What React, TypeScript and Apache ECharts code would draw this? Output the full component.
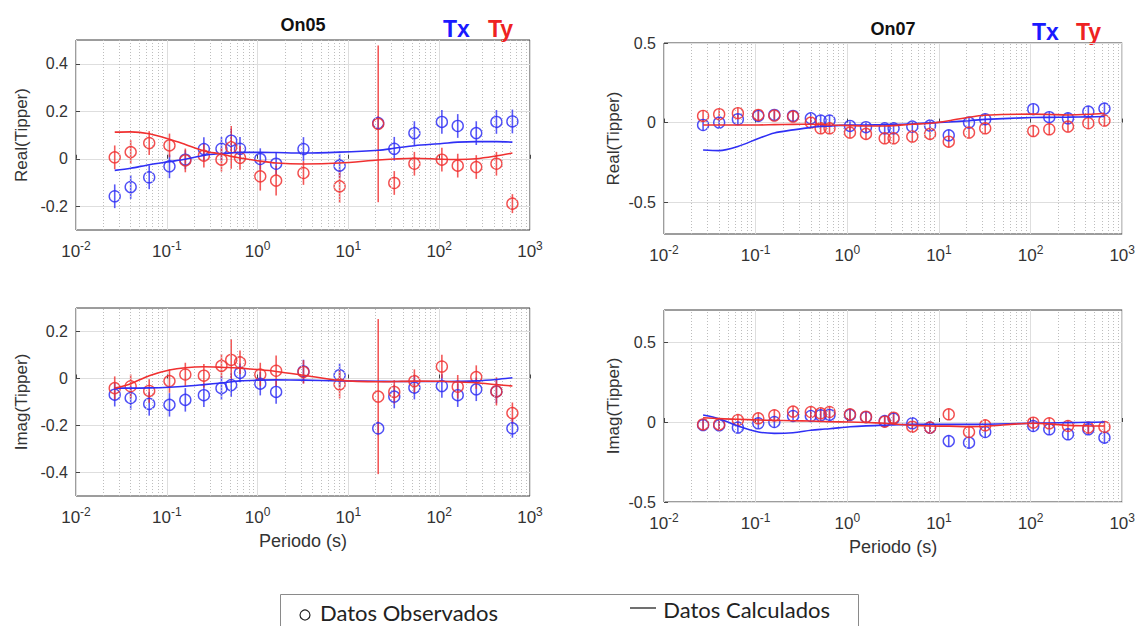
import React, { useEffect, useRef } from "react";
import * as echarts from "echarts";

// ---------- data ----------
const periods05 = [0.0267, 0.04, 0.064, 0.107, 0.16, 0.256, 0.4, 0.512, 0.64, 1.07, 1.6, 3.2, 8, 21.3, 32, 53.3, 107, 160, 256, 427, 640];
const periods07 = [0.0267, 0.04, 0.064, 0.107, 0.16, 0.256, 0.4, 0.512, 0.64, 1.07, 1.6, 2.56, 3.2, 5.12, 8, 12.8, 21.3, 32, 107, 160, 256, 427, 640];

// On05 real
const re05TxObs = [-0.158, -0.119, -0.078, -0.032, -0.004, 0.041, 0.042, 0.076, 0.042, -0.001, -0.021, 0.041, -0.029, 0.15, 0.042, 0.108, 0.155, 0.138, 0.108, 0.155, 0.157];
const re05TxErr = [0.05, 0.05, 0.05, 0.05, 0.04, 0.05, 0.05, 0.05, 0.05, 0.045, 0.045, 0.05, 0.05, 0.03, 0.05, 0.05, 0.05, 0.05, 0.05, 0.05, 0.05];
const re05TyObs = [0.006, 0.028, 0.066, 0.056, -0.007, 0.013, -0.004, 0.048, 0.004, -0.074, -0.092, -0.06, -0.116, 0.147, -0.102, -0.021, -0.004, -0.029, -0.035, -0.021, -0.189];
const re05TyErr = [0.05, 0.05, 0.05, 0.05, 0.05, 0.05, 0.05, 0.09, 0.05, 0.06, 0.063, 0.05, 0.07, 0.33, 0.05, 0.05, 0.05, 0.05, 0.05, 0.05, 0.04];
const re05TxCalc = [-0.049, -0.04, -0.025, -0.012, -0.002, 0.014, 0.022, 0.025, 0.027, 0.027, 0.026, 0.024, 0.028, 0.036, 0.044, 0.055, 0.064, 0.07, 0.072, 0.072, 0.07];
const re05TyCalc = [0.112, 0.113, 0.105, 0.082, 0.06, 0.033, 0.02, 0.01, 0.003, -0.01, -0.018, -0.022, -0.018, -0.005, -0.001, 0.002, -0.002, -0.003, 0.0, 0.012, 0.024];

// On05 imag
const im05TxObs = [-0.069, -0.083, -0.108, -0.112, -0.091, -0.071, -0.041, -0.028, 0.024, -0.022, -0.057, 0.03, 0.014, -0.212, -0.077, -0.039, -0.032, -0.071, -0.046, -0.055, -0.212];
const im05TxErr = [0.05, 0.05, 0.05, 0.05, 0.05, 0.05, 0.05, 0.05, 0.04, 0.05, 0.05, 0.05, 0.05, 0.03, 0.05, 0.05, 0.05, 0.05, 0.05, 0.05, 0.04];
const im05TyObs = [-0.041, -0.033, -0.053, -0.011, 0.017, 0.012, 0.054, 0.079, 0.069, 0.017, 0.033, 0.028, -0.025, -0.077, -0.057, -0.011, 0.051, -0.035, 0.006, -0.055, -0.147];
const im05TyErr = [0.05, 0.05, 0.05, 0.05, 0.05, 0.05, 0.05, 0.088, 0.05, 0.05, 0.065, 0.05, 0.06, 0.33, 0.05, 0.05, 0.05, 0.05, 0.05, 0.06, 0.045];
const im05TxCalc = [-0.041, -0.041, -0.04, -0.037, -0.033, -0.026, -0.019, -0.014, -0.01, -0.007, -0.006, -0.007, -0.01, -0.012, -0.013, -0.013, -0.013, -0.012, -0.01, -0.004, 0.003];
const im05TyCalc = [-0.041, -0.022, 0.012, 0.036, 0.046, 0.05, 0.048, 0.046, 0.044, 0.037, 0.03, 0.014, -0.008, -0.014, -0.013, -0.011, -0.012, -0.015, -0.018, -0.026, -0.032];

// On07 real
const re07TxObs = [-0.015, 0.0, 0.021, 0.042, 0.048, 0.042, 0.027, 0.013, 0.013, -0.021, -0.029, -0.036, -0.036, -0.025, -0.019, -0.08, 0.0, 0.021, 0.084, 0.034, 0.027, 0.069, 0.088];
const re07TxErr = [0.035, 0.035, 0.035, 0.035, 0.03, 0.035, 0.035, 0.035, 0.035, 0.03, 0.03, 0.03, 0.03, 0.03, 0.03, 0.035, 0.035, 0.035, 0.035, 0.035, 0.035, 0.035, 0.035];
const re07TyObs = [0.042, 0.053, 0.059, 0.048, 0.044, 0.038, 0.0, -0.036, -0.036, -0.063, -0.071, -0.099, -0.099, -0.088, -0.071, -0.12, -0.063, -0.036, -0.053, -0.042, -0.025, -0.004, 0.013];
const re07TyErr = [0.035, 0.035, 0.035, 0.035, 0.03, 0.035, 0.035, 0.035, 0.035, 0.035, 0.035, 0.035, 0.035, 0.035, 0.035, 0.035, 0.035, 0.035, 0.035, 0.035, 0.035, 0.035, 0.035];
const re07TxCalc = [-0.172, -0.176, -0.15, -0.1, -0.065, -0.046, -0.03, -0.025, -0.021, -0.016, -0.015, -0.014, -0.012, -0.008, -0.002, 0.004, 0.012, 0.02, 0.032, 0.033, 0.034, 0.036, 0.038];
const re07TyCalc = [-0.015, -0.015, -0.015, -0.015, -0.013, -0.011, -0.01, -0.012, -0.015, -0.019, -0.021, -0.021, -0.019, -0.01, -0.004, 0.012, 0.034, 0.046, 0.053, 0.051, 0.048, 0.052, 0.059];

// On07 imag
const im07TxObs = [-0.019, -0.021, -0.035, -0.008, 0.0, 0.0375, 0.0375, 0.042, 0.044, 0.044, 0.03, 0.006, 0.021, -0.008, -0.035, -0.119, -0.129, -0.0625, -0.025, -0.046, -0.077, -0.046, -0.098];
const im07TxErr = [0.035, 0.035, 0.035, 0.035, 0.035, 0.035, 0.035, 0.035, 0.035, 0.035, 0.035, 0.035, 0.035, 0.035, 0.035, 0.035, 0.035, 0.035, 0.035, 0.035, 0.035, 0.035, 0.035];
const im07TyObs = [-0.015, -0.015, 0.0125, 0.023, 0.042, 0.065, 0.0625, 0.054, 0.0625, 0.048, 0.033, 0.002, 0.027, -0.029, -0.035, 0.048, -0.0625, -0.021, -0.004, -0.008, -0.025, -0.035, -0.031];
const im07TyErr = [0.035, 0.035, 0.035, 0.035, 0.035, 0.035, 0.035, 0.035, 0.035, 0.035, 0.035, 0.035, 0.035, 0.035, 0.035, 0.035, 0.035, 0.035, 0.035, 0.035, 0.035, 0.035, 0.035];
const im07TxCalc = [0.044, 0.021, -0.025, -0.062, -0.071, -0.067, -0.052, -0.046, -0.042, -0.03, -0.024, -0.02, -0.018, -0.015, -0.015, -0.015, -0.015, -0.014, -0.008, -0.006, -0.004, -0.002, 0.0];
const im07TyCalc = [0.027, 0.021, 0.017, 0.0125, 0.01, 0.008, 0.006, 0.004, 0.002, 0.0, -0.003, -0.008, -0.012, -0.021, -0.025, -0.026, -0.029, -0.027, -0.008, -0.012, -0.021, -0.024, -0.025];

const ticks05Real = [-0.2, 0, 0.2, 0.4];
const ticks05Imag = [-0.4, -0.2, 0, 0.2];
const ticks07 = [-0.5, 0, 0.5];
const minorMultipliers = [2, 3, 4, 5, 6, 7, 8, 9];
const decades = [0.01, 0.1, 1, 10, 100];

// ---------- style ----------
const BLUE = "#2f2ff5";
const RED = "#f03030";
const FONT = "Liberation Sans";
const TXT = "#333333";

const panels = [
  { grid: { left: 76, top: 40, width: 454, height: 190 }, ymin: -0.3, ymax: 0.5, ticks: ticks05Real, yName: "Real(Tipper)", xName: "", nameGap: 46,
    periods: periods05, txObs: re05TxObs, txErr: re05TxErr, tyObs: re05TyObs, tyErr: re05TyErr, txCalc: re05TxCalc, tyCalc: re05TyCalc },
  { grid: { left: 664, top: 43, width: 459, height: 191 }, ymin: -0.7, ymax: 0.5, ticks: ticks07, yName: "Real(Tipper)", xName: "", nameGap: 42,
    periods: periods07, txObs: re07TxObs, txErr: re07TxErr, tyObs: re07TyObs, tyErr: re07TyErr, txCalc: re07TxCalc, tyCalc: re07TyCalc },
  { grid: { left: 76, top: 308, width: 454, height: 188 }, ymin: -0.5, ymax: 0.3, ticks: ticks05Imag, yName: "Imag(Tipper)", xName: "Periodo (s)", nameGap: 46,
    periods: periods05, txObs: im05TxObs, txErr: im05TxErr, tyObs: im05TyObs, tyErr: im05TyErr, txCalc: im05TxCalc, tyCalc: im05TyCalc },
  { grid: { left: 664, top: 310, width: 459, height: 192 }, ymin: -0.5, ymax: 0.7, ticks: ticks07, yName: "Imag(Tipper)", xName: "Periodo (s)", nameGap: 42,
    periods: periods07, txObs: im07TxObs, txErr: im07TxErr, tyObs: im07TyObs, tyErr: im07TyErr, txCalc: im07TxCalc, tyCalc: im07TyCalc },
];

function errorBars(idx: number, periods: number[], vals: number[], errs: number[], color: string) {
  return {
    type: "custom",
    xAxisIndex: idx,
    yAxisIndex: idx,
    data: periods.map((p, i) => [p, vals[i], errs[i]]),
    encode: { x: 0, y: 1 },
    renderItem: (_params: any, api: any) => {
      const x = api.value(0);
      const y = api.value(1);
      const e = api.value(2);
      const p1 = api.coord([x, y - e]);
      const p2 = api.coord([x, y + e]);
      return {
        type: "line",
        shape: { x1: p1[0], y1: p1[1], x2: p2[0], y2: p2[1] },
        style: { stroke: color, lineWidth: 1.6, opacity: 0.8 },
      };
    },
    z: 3,
  };
}

function buildOption() {
  const minorValues: number[] = [];
  decades.forEach((d) => minorMultipliers.forEach((m) => minorValues.push(m * d)));

  const xAxis: any[] = [];
  const yAxis: any[] = [];
  const series: any[] = [];

  panels.forEach((p, i) => {
    xAxis.push({
      type: "log",
      logBase: 10,
      gridIndex: i,
      min: 0.01,
      max: 1000,
      name: p.xName,
      nameLocation: "middle",
      nameGap: 36,
      nameTextStyle: { fontSize: 18, color: TXT, fontFamily: FONT },
      axisLine: { show: false },
      axisTick: { show: true, inside: true, length: 4, lineStyle: { color: "#444" } },
      splitLine: { show: true, lineStyle: { color: "#dedede", width: 1 } },
      axisLabel: {
        margin: 10,
        formatter: (v: number) => `{b|10}{s|${Math.round(Math.log10(v))}}`,
        rich: {
          b: { fontSize: 17, color: TXT, fontFamily: FONT, lineHeight: 22 },
          s: { fontSize: 12, color: TXT, fontFamily: FONT, verticalAlign: "top", lineHeight: 14 },
        },
      },
    });
    yAxis.push({
      type: "value",
      gridIndex: i,
      min: p.ymin,
      max: p.ymax,
      name: p.yName,
      nameLocation: "middle",
      nameGap: p.nameGap,
      nameTextStyle: { fontSize: 17, color: TXT, fontFamily: FONT },
      axisLine: { show: false },
      axisTick: { show: true, inside: true, length: 4, customValues: p.ticks, lineStyle: { color: "#444" } },
      splitLine: { show: true, lineStyle: { color: "#dedede", width: 1 } },
      axisLabel: {
        customValues: p.ticks,
        fontSize: 16,
        color: TXT,
        fontFamily: FONT,
        margin: 8,
        formatter: (v: number) => (Math.abs(v) < 1e-9 ? "0" : String(Math.round(v * 10) / 10)),
      },
    });

    // minor dotted grid
    series.push({
      type: "scatter",
      xAxisIndex: i,
      yAxisIndex: i,
      data: [],
      silent: true,
      markLine: {
        silent: true,
        symbol: ["none", "none"],
        label: { show: false },
        lineStyle: { type: [1, 2], color: "#bdbdbd", width: 1 },
        data: minorValues.map((v) => ({ xAxis: v })),
      },
      z: 1,
    });

    series.push(errorBars(i, p.periods, p.txObs, p.txErr, BLUE));
    series.push(errorBars(i, p.periods, p.tyObs, p.tyErr, RED));

    const scatter = (vals: number[], color: string) => ({
      type: "scatter",
      xAxisIndex: i,
      yAxisIndex: i,
      data: p.periods.map((t, k) => [t, vals[k]]),
      symbol: "circle",
      symbolSize: 11,
      itemStyle: { color: "rgba(0,0,0,0)", borderColor: color, borderWidth: 1.4, opacity: 0.85 },
      z: 4,
    });
    series.push(scatter(p.txObs, BLUE));
    series.push(scatter(p.tyObs, RED));

    const line = (vals: number[], color: string) => ({
      type: "line",
      xAxisIndex: i,
      yAxisIndex: i,
      data: p.periods.map((t, k) => [t, vals[k]]),
      showSymbol: false,
      smooth: 0.3,
      lineStyle: { color, width: 1.6 },
      z: 5,
    });
    series.push(line(p.txCalc, BLUE));
    series.push(line(p.tyCalc, RED));
  });

  const titleStyle = { fontSize: 18, fontWeight: "bold", fill: "#111", fontFamily: FONT, align: "center" };
  const txStyle = { fontSize: 23, fontWeight: "bold", fontFamily: FONT };
  const legFont = { fontSize: 22, fill: "#222", fontFamily: "Lato", verticalAlign: "middle" };

  return {
    animation: false,
    backgroundColor: "#ffffff",
    textStyle: { fontFamily: FONT },
    grid: panels.map((p) => ({ ...p.grid, show: true, borderColor: "#3a3a3a", borderWidth: 1, containLabel: false })),
    xAxis,
    yAxis,
    series,
    graphic: [
      { type: "text", x: 303, y: 16, style: { text: "On05", ...titleStyle } },
      { type: "text", left: 443, top: 17, style: { text: "Tx", fill: "#1a1aff", ...txStyle } },
      { type: "text", left: 488, top: 17, style: { text: "Ty", fill: "#ee2222", ...txStyle } },
      { type: "text", x: 893, y: 20, style: { text: "On07", ...titleStyle } },
      { type: "text", left: 1032, top: 20, style: { text: "Tx", fill: "#1a1aff", ...txStyle } },
      { type: "text", left: 1076, top: 20, style: { text: "Ty", fill: "#ee2222", ...txStyle } },
      // legend box
      { type: "rect", shape: { x: 280.5, y: 594.5, width: 578, height: 40 }, style: { fill: "#fff", stroke: "#8a8a8a", lineWidth: 1 } },
      { type: "circle", shape: { cx: 305, cy: 615, r: 5 }, style: { fill: "none", stroke: "#222", lineWidth: 1.2 } },
      { type: "text", x: 320, y: 612, style: { text: "Datos Observados", align: "left", ...legFont } },
      { type: "line", shape: { x1: 630, y1: 608, x2: 656, y2: 608 }, style: { stroke: "#222", lineWidth: 1.3 } },
      { type: "text", x: 830, y: 609, style: { text: "Datos Calculados", align: "right", ...legFont } },
    ],
  };
}

export default function App() {
  const ref = useRef<HTMLDivElement>(null);
  useEffect(() => {
    if (!ref.current) return;
    const chart = echarts.init(ref.current, undefined, { renderer: "svg" });
    chart.setOption(buildOption() as any);
    return () => chart.dispose();
  }, []);
  return (
    <div
      ref={ref}
      style={{ position: "fixed", left: 0, top: 0, width: 1138, height: 626, background: "#fff" }}
    />
  );
}
